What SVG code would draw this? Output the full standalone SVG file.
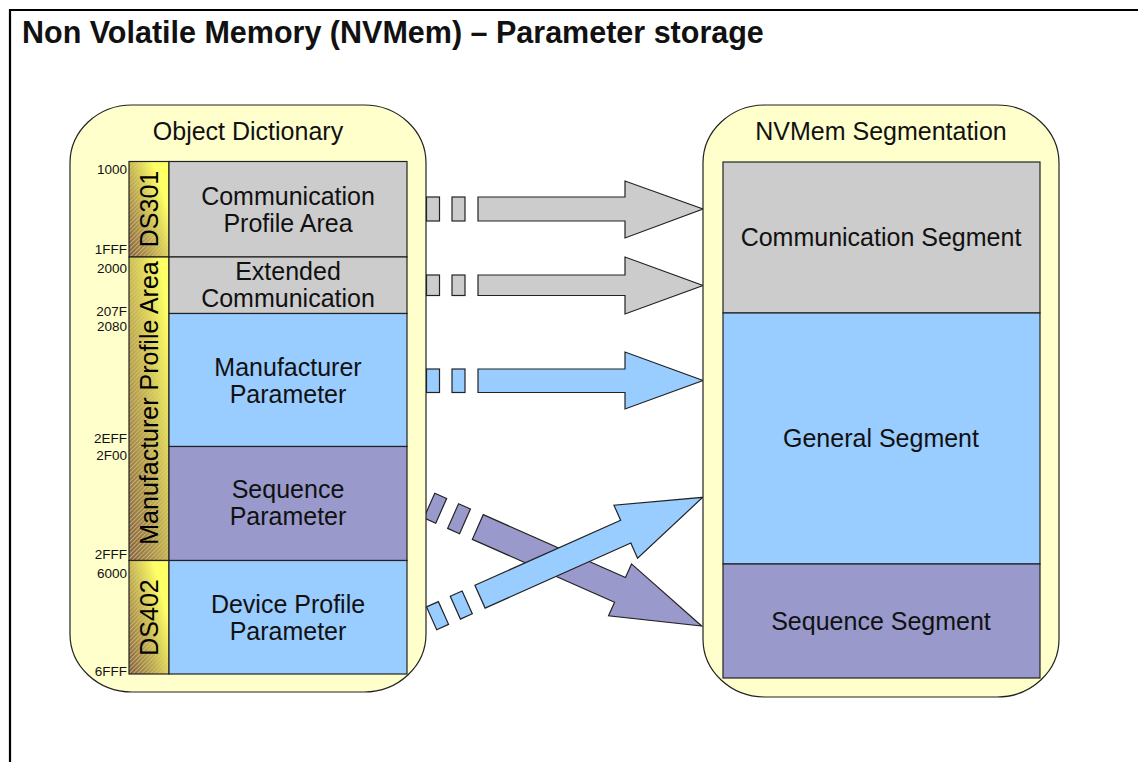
<svg xmlns="http://www.w3.org/2000/svg" width="1138" height="762" viewBox="0 0 1138 762">
  <style>
    text { font-family: "Liberation Sans", Arial, Helvetica, sans-serif; fill: #111; }
    .title { font-size: 30.5px; font-weight: bold; }
    .head { font-size: 25px; text-anchor: middle; }
    .lbl { font-size: 25px; text-anchor: middle; }
    .bar { font-size: 25px; text-anchor: middle; fill: #000; }
    .addr { font-size: 13.5px; text-anchor: end; }
    .box { fill: #FFFFCC; stroke: #222; stroke-width: 1.2; }
    .cell { stroke: #222; stroke-width: 1.2; }
    .grey { fill: #CCCCCC; }
    .blue { fill: #99CCFF; }
    .purple { fill: #9999CC; }
    .arrow { stroke: #222; stroke-width: 1.2; stroke-linejoin: miter; }
  </style>
  <defs>
    <!-- shading of the profile bars: yellow fading to brown -->
    <linearGradient id="barShort" x1="0.9" y1="0.4" x2="0.1" y2="1">
      <stop offset="0" stop-color="#FFFF66"/>
      <stop offset="1" stop-color="#8A6636"/>
    </linearGradient>
    <linearGradient id="barLong" x1="0.9" y1="0.12" x2="0.1" y2="1">
      <stop offset="0" stop-color="#FFFF66"/>
      <stop offset="1" stop-color="#8A6636"/>
    </linearGradient>
    <linearGradient id="fadeShort" x1="0.9" y1="0.4" x2="0.1" y2="1">
      <stop offset="0" stop-color="#000"/>
      <stop offset="1" stop-color="#fff"/>
    </linearGradient>
    <linearGradient id="fadeLong" x1="0.9" y1="0.12" x2="0.1" y2="1">
      <stop offset="0" stop-color="#000"/>
      <stop offset="1" stop-color="#fff"/>
    </linearGradient>
    <mask id="maskShort" maskContentUnits="objectBoundingBox">
      <rect width="1" height="1" fill="url(#fadeShort)"/>
    </mask>
    <mask id="maskLong" maskContentUnits="objectBoundingBox">
      <rect width="1" height="1" fill="url(#fadeLong)"/>
    </mask>
    <pattern id="hatch" patternUnits="userSpaceOnUse" width="3" height="3" patternTransform="rotate(45)">
      <rect width="1" height="3" fill="#FFFFFF" opacity="0.45"/>
    </pattern>
  </defs>

  <rect width="1138" height="762" fill="#FFFFFF"/>

  <!-- page frame and heading -->
  <g id="frame">
    <path d="M10 762 V10 H1138" fill="none" stroke="#000" stroke-width="2.2"/>
    <text class="title" x="22" y="43">Non Volatile Memory (NVMem) – Parameter storage</text>
  </g>

  <!-- block arrows -->
  <g id="connectors">
    <g id="arrow-comm" class="arrow grey">
      <rect x="426.5" y="197" width="13" height="24"/>
      <rect x="452" y="197" width="13" height="24"/>
      <polygon points="478,197 625,197 625,181 703,209 625,238 625,221 478,221"/>
    </g>
    <g id="arrow-ext" class="arrow grey">
      <rect x="426.5" y="275" width="13" height="20.5"/>
      <rect x="452" y="275" width="13" height="20.5"/>
      <polygon points="478,275 625,275 625,257 703,285.5 625,314 625,295.5 478,295.5"/>
    </g>
    <g id="arrow-manu" class="arrow blue">
      <rect x="426.5" y="369" width="13" height="23.5"/>
      <rect x="452" y="369" width="13" height="23.5"/>
      <polygon points="478,369 625,369 625,352 703,380.5 625,409 625,392.5 478,392.5"/>
    </g>
    <g id="arrow-seq" class="arrow purple" transform="translate(477.8,527) rotate(23.85)">
      <rect x="-53" y="-13.5" width="13" height="27"/>
      <rect x="-27" y="-13.5" width="13" height="27"/>
      <polygon points="0,-13.5 155.5,-13.5 155.5,-28.4 244.8,0 155.5,28.4 155.5,13.5 0,13.5"/>
    </g>
    <g id="arrow-dev" class="arrow blue" transform="translate(480,596.7) rotate(-24.05)">
      <rect x="-53" y="-12.5" width="13" height="25"/>
      <rect x="-27" y="-12.5" width="13" height="25"/>
      <polygon points="0,-12.5 159.6,-12.5 159.6,-29 243.9,0 159.6,29 159.6,12.5 0,12.5"/>
    </g>
  </g>

  <!-- object dictionary -->
  <g id="object-dictionary">
    <rect class="box" x="70" y="105" width="356" height="587" rx="62" ry="58"/>
    <text class="head" x="248" y="140">Object Dictionary</text>

    <g id="bar-ds301">
      <rect x="129" y="161.5" width="40" height="95.5" fill="url(#barShort)"/>
      <rect x="129" y="161.5" width="40" height="95.5" fill="url(#hatch)" mask="url(#maskShort)"/>
      <rect class="cell" x="129" y="161.5" width="40" height="95.5" fill="none"/>
      <text class="bar" transform="translate(158,209) rotate(-90)">DS301</text>
    </g>
    <g id="bar-manufacturer">
      <rect x="129" y="257" width="40" height="303.5" fill="url(#barLong)"/>
      <rect x="129" y="257" width="40" height="303.5" fill="url(#hatch)" mask="url(#maskLong)"/>
      <rect class="cell" x="129" y="257" width="40" height="303.5" fill="none"/>
      <text class="bar" transform="translate(158,403) rotate(-90)">Manufacturer Profile Area</text>
    </g>
    <g id="bar-ds402">
      <rect x="129" y="560.5" width="40" height="113.5" fill="url(#barShort)"/>
      <rect x="129" y="560.5" width="40" height="113.5" fill="url(#hatch)" mask="url(#maskShort)"/>
      <rect class="cell" x="129" y="560.5" width="40" height="113.5" fill="none"/>
      <text class="bar" transform="translate(158,617.5) rotate(-90)">DS402</text>
    </g>

    <g id="od-comm">
      <rect class="cell grey" x="169" y="161.5" width="238" height="95.5"/>
      <text class="lbl" x="288" y="205">Communication</text>
      <text class="lbl" x="288" y="232">Profile Area</text>
    </g>
    <g id="od-ext">
      <rect class="cell grey" x="169" y="257" width="238" height="56.5"/>
      <text class="lbl" x="288" y="280">Extended</text>
      <text class="lbl" x="288" y="307">Communication</text>
    </g>
    <g id="od-manu">
      <rect class="cell blue" x="169" y="313.5" width="238" height="133"/>
      <text class="lbl" x="288" y="376">Manufacturer</text>
      <text class="lbl" x="288" y="403">Parameter</text>
    </g>
    <g id="od-seq">
      <rect class="cell purple" x="169" y="446.5" width="238" height="114"/>
      <text class="lbl" x="288" y="498">Sequence</text>
      <text class="lbl" x="288" y="525">Parameter</text>
    </g>
    <g id="od-dev">
      <rect class="cell blue" x="169" y="560.5" width="238" height="113.5"/>
      <text class="lbl" x="288" y="613">Device Profile</text>
      <text class="lbl" x="288" y="640">Parameter</text>
    </g>

    <g id="od-addresses">
      <text class="addr" x="127" y="174">1000</text>
      <text class="addr" x="127" y="254">1FFF</text>
      <text class="addr" x="127" y="273">2000</text>
      <text class="addr" x="127" y="316">207F</text>
      <text class="addr" x="127" y="331">2080</text>
      <text class="addr" x="127" y="443">2EFF</text>
      <text class="addr" x="127" y="460">2F00</text>
      <text class="addr" x="127" y="559">2FFF</text>
      <text class="addr" x="127" y="578">6000</text>
      <text class="addr" x="127" y="676">6FFF</text>
    </g>
  </g>

  <!-- NVMem segmentation -->
  <g id="nvmem-segmentation">
    <rect class="box" x="703" y="105" width="356" height="592" rx="62" ry="58"/>
    <text class="head" x="881" y="140">NVMem Segmentation</text>
    <g id="seg-comm">
      <rect class="cell grey" x="723" y="162" width="317" height="151"/>
      <text class="lbl" x="881" y="246">Communication Segment</text>
    </g>
    <g id="seg-general">
      <rect class="cell blue" x="723" y="313" width="317" height="251"/>
      <text class="lbl" x="881" y="447">General Segment</text>
    </g>
    <g id="seg-seq">
      <rect class="cell purple" x="723" y="564" width="317" height="114"/>
      <text class="lbl" x="881" y="630">Sequence Segment</text>
    </g>
  </g>
</svg>
